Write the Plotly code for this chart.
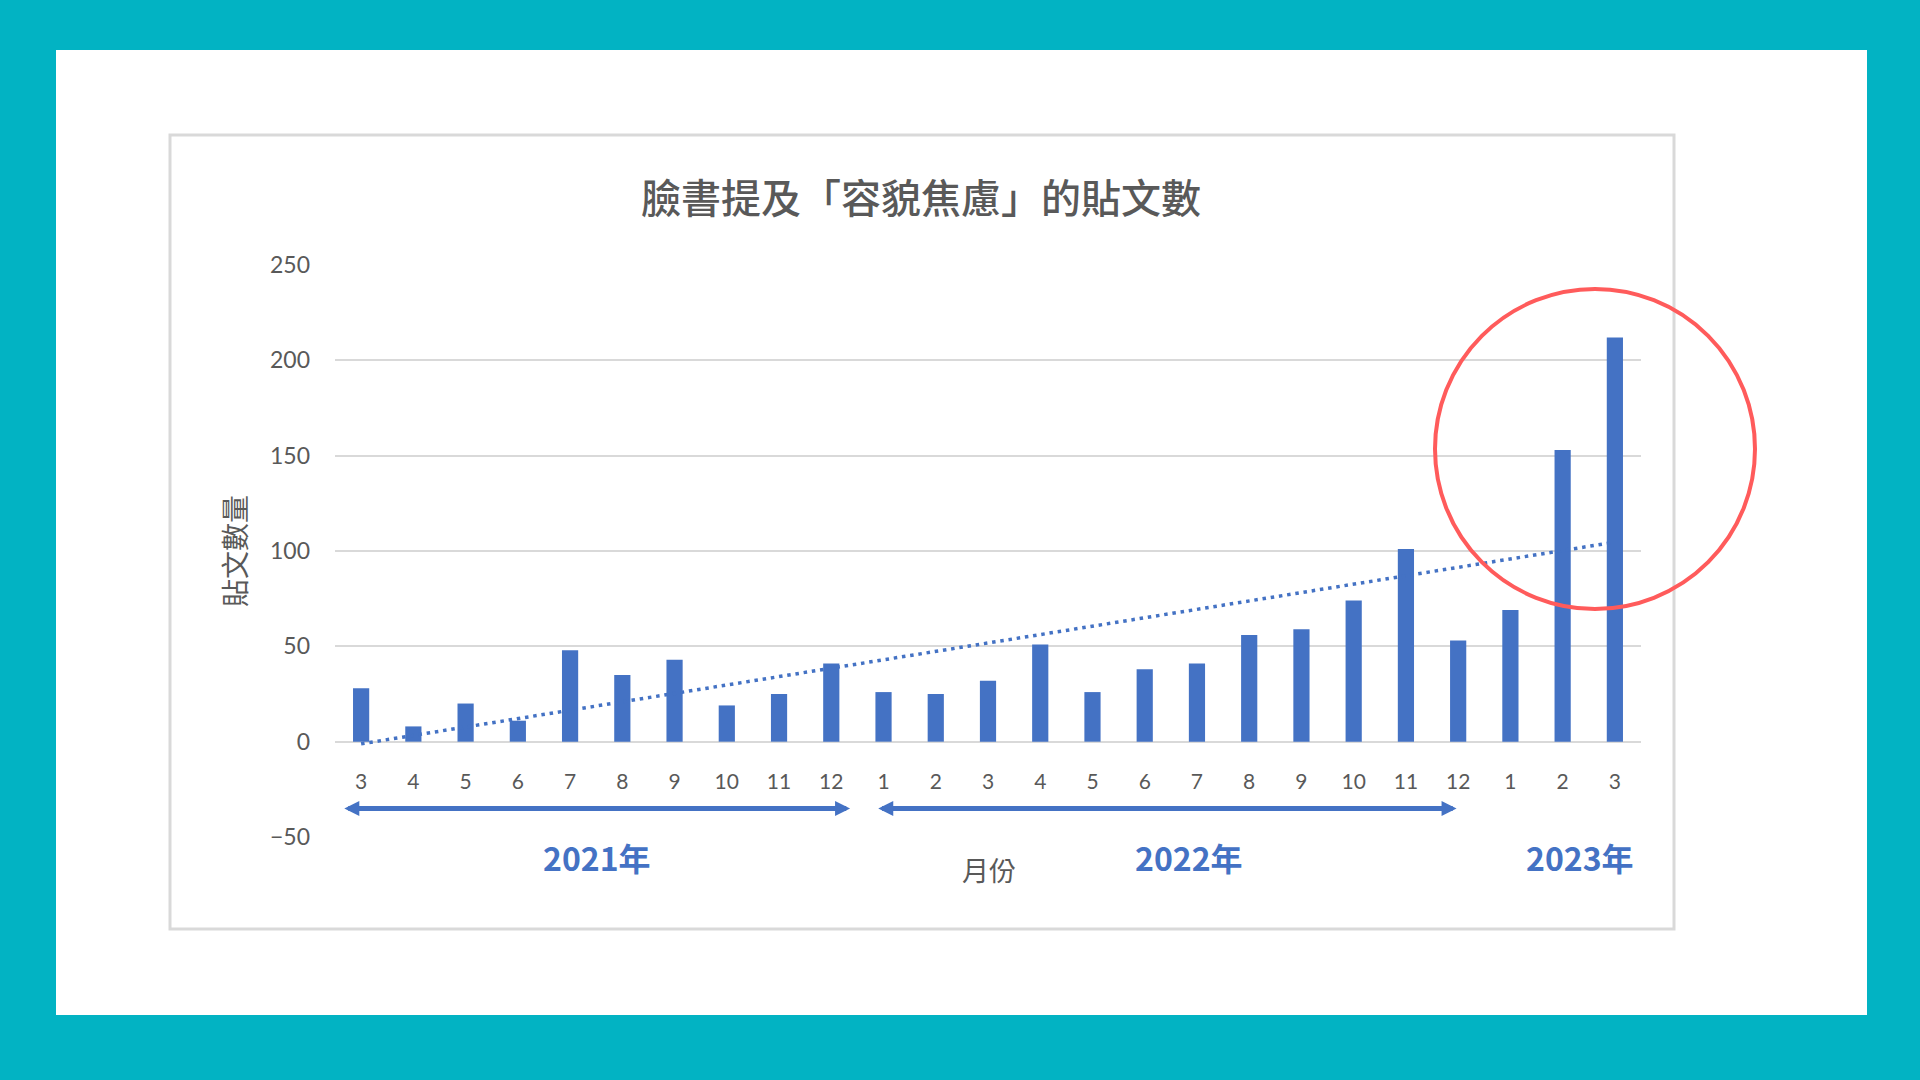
import numpy as np
import plotly.graph_objects as go

# ---- data ----
months = ["3", "4", "5", "6", "7", "8", "9", "10", "11", "12",
          "1", "2", "3", "4", "5", "6", "7", "8", "9", "10", "11", "12",
          "1", "2", "3"]
posts = [28, 8, 20, 11, 48, 35, 43, 19, 25, 41,
         26, 25, 32, 51, 26, 38, 41, 56, 59, 74, 101, 53,
         69, 153, 212]
year_labels = ["2021年", "2022年", "2023年"]
y_ticks = [-50, 0, 50, 100, 150, 200, 250]

title_text = "臉書提及「容貌焦慮」的貼文數"
y_title = "貼文數量"
x_title = "月份"

# ---- layout constants ----
W, H = 1920, 1080
L, R, T, B = 335, 279, 265, 243
BLUE = "#4472C4"
GRAY = "#595959"
GRID = "#D9D9D9"
TEAL = "#02B3C3"
CJK = "Noto Sans CJK TC"
NUM = "Lato"

pw, ph = W - L - R, H - T - B


def px(x):
    return (x - L) / pw


def py(y):
    return (H - B - y) / ph


idx = list(range(len(months)))
coef = np.polyfit(idx, posts, 1)
trend = np.polyval(coef, idx)

fig = go.Figure()
fig.add_trace(go.Bar(x=idx, y=posts, width=0.31, marker=dict(color=BLUE, line=dict(width=0)),
                     name="貼文數", showlegend=False))
fig.add_trace(go.Scatter(x=idx, y=trend, mode="lines",
                         line=dict(color=BLUE, width=3.5, dash="3.5px,4.8px"),
                         showlegend=False, name="趨勢線"))

shapes = [
    dict(type="rect", xref="paper", yref="paper", x0=px(56), x1=px(1867), y0=py(1015), y1=py(50),
         fillcolor="white", line=dict(width=0), layer="below"),
    dict(type="rect", xref="paper", yref="paper", x0=px(170), x1=px(1674), y0=py(929), y1=py(135),
         fillcolor="white", line=dict(color=GRID, width=3), layer="below"),
    dict(type="circle", xref="paper", yref="paper", x0=px(1435), x1=px(1755), y0=py(609), y1=py(289),
         line=dict(color="#FF5B5B", width=4), layer="above"),
]

annotations = [
    dict(text=title_text, xref="paper", yref="paper", x=px(921), y=py(196), showarrow=False,
         font=dict(family=CJK, size=40, color=GRAY, weight=500), xanchor="center", yanchor="middle"),
    dict(text=y_title, xref="paper", yref="paper", x=px(234), y=py(551), showarrow=False, textangle=-90,
         font=dict(family=CJK, size=28, color=GRAY), xanchor="center", yanchor="middle"),
    dict(text=x_title, xref="paper", yref="paper", x=px(989), y=py(869), showarrow=False,
         font=dict(family=CJK, size=27, color=GRAY), xanchor="center", yanchor="middle"),
]
for lab, cx in zip(year_labels, [597, 1189, 1580]):
    annotations.append(dict(text="<b>" + lab + "</b>", xref="paper", yref="paper", x=px(cx), y=py(857),
                            showarrow=False, font=dict(family=CJK, size=32, color=BLUE),
                            xanchor="center", yanchor="middle"))
# year brackets (double-headed arrows)
for x0, x1 in [(-0.35, 9.36), (9.87, 20.97)]:
    annotations.append(dict(text="", x=x1, y=-35, ax=x0, ay=-35, xref="x", yref="y", axref="x", ayref="y",
                            showarrow=True, arrowside="end+start", arrowhead=2, startarrowhead=2,
                            arrowsize=0.6, startarrowsize=0.6, arrowwidth=5, arrowcolor=BLUE,
                            standoff=0, startstandoff=0))

fig.update_layout(
    width=W, height=H,
    margin=dict(l=L, r=R, t=T, b=B, pad=0),
    paper_bgcolor=TEAL, plot_bgcolor="white",
    shapes=shapes, annotations=annotations,
    xaxis=dict(range=[-0.5, len(months) - 0.5], tickvals=idx, ticktext=months,
               showgrid=False, zeroline=False, showline=False, ticks="",
               anchor="free", position=50 / 300, ticklabelstandoff=25,
               tickfont=dict(family=NUM, size=21, color=GRAY)),
    yaxis=dict(range=[-50, 250], tickvals=y_ticks, ticktext=["−50"] + [str(v) for v in y_ticks[1:]],
               showgrid=True, gridcolor=GRID, gridwidth=2, zeroline=False, showline=False, ticks="",
               ticklabelstandoff=24, tickfont=dict(family=NUM, size=23, color=GRAY)),
)

fig.write_html("out.html", config={"displayModeBar": False},
               post_script="document.body.style.margin='0';document.body.style.padding='0';"
                           "document.documentElement.style.overflow='hidden';")
